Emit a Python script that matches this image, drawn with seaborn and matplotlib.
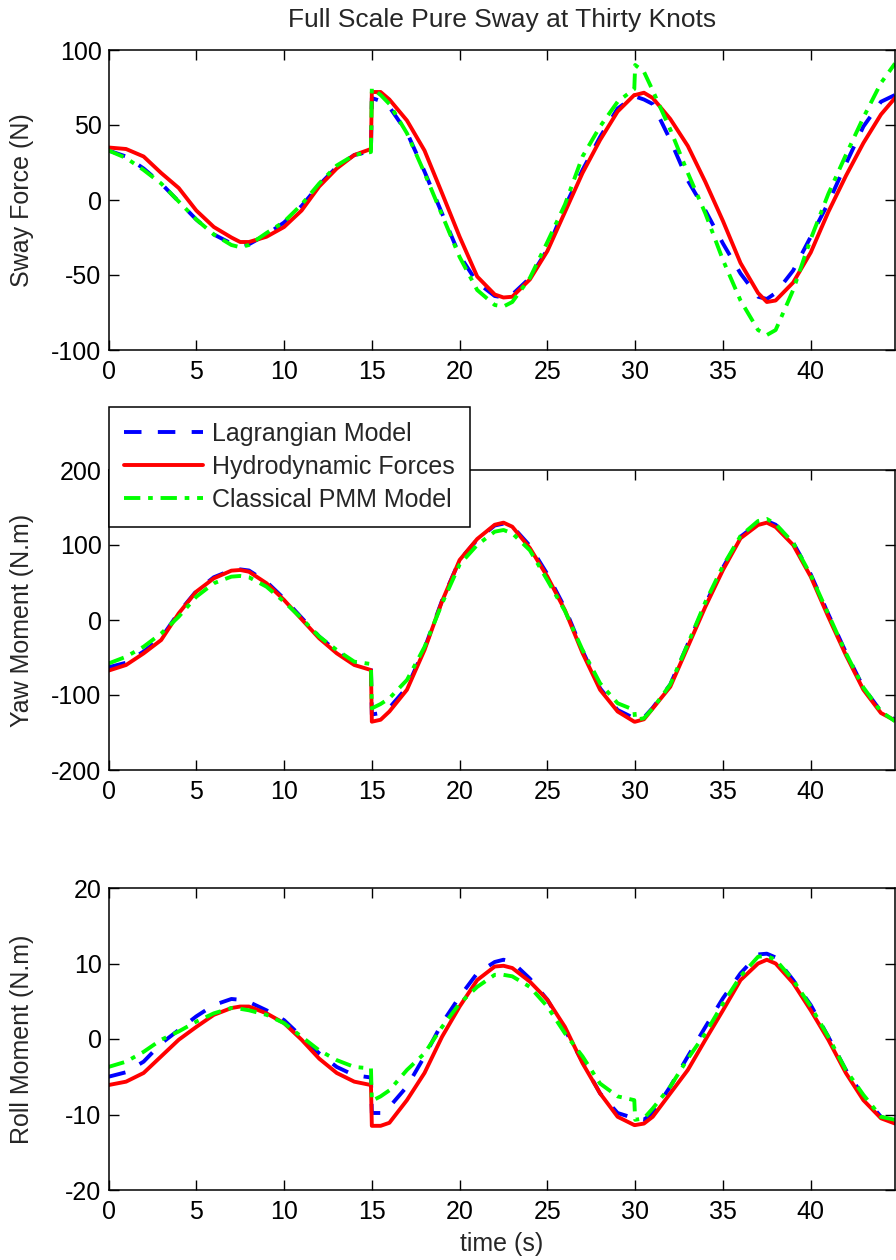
import matplotlib
matplotlib.use("Agg")
import matplotlib.pyplot as plt
import seaborn as sns

# ---------------- data ----------------
time_s = [0, 1, 2, 3, 4, 5, 6, 7, 7.5, 8, 9, 10, 11, 12, 13, 14, 14.95, 15, 15.5,
          16, 17, 18, 19, 20, 21, 22, 22.5, 23, 24, 25, 26, 27, 28, 29, 29.95, 30, 30.5,
          31, 32, 33, 34, 35, 36, 37, 37.5, 38, 39, 40, 41, 42, 43, 44, 44.8]

series_names = ["Lagrangian Model", "Hydrodynamic Forces", "Classical PMM Model"]

# Sway force (N)
sway_lagrangian = [33, 29, 21, 11, -1, -13, -23, -29, -30, -29.5, -23, -15, -4, 10, 22, 30, 32.5, 68, 66,
                   62, 45, 19, -9, -37, -55, -64, -65, -63, -52, -33, -4.4, 20, 42, 61, 69, 69, 67,
                   64, 40, 13, -7, -29, -49, -64.5, -66, -62, -47, -24.5, -2, 24, 49, 65.5, 70]
sway_hydro = [35, 34, 29, 18, 8, -7, -18, -25, -28, -28, -24.5, -18, -7, 9, 21, 30, 34, 72, 72,
              67, 53, 33, 4.5, -24.5, -51, -63, -65, -64.5, -53, -34, -8, 18, 40, 59, 70, 70, 71.5,
              68, 54, 36, 12, -14, -42, -62, -68, -67, -55, -35, -8, 16, 38, 57, 68]
sway_pmm = [33, 28, 20, 11, -1, -13, -23, -30, -31.5, -30, -22, -14.5, -3, 11, 23, 30, 32, 74.5, 70,
            64, 44.5, 18, -10, -38, -60, -70, -71, -68, -52, -28, -3, 29, 49, 65.5, 74, 90, 85.5,
            73, 47, 18, -9, -40, -67, -86.7, -90, -86.7, -60, -26, 4, 30, 55, 78, 91]

# Yaw moment (N.m)
yaw_lagrangian = [-63, -57, -42, -24, 10, 38.5, 57, 66.5, 67.5, 66, 51, 28.5, 3, -22, -42, -58, -63, -126, -124,
                  -117, -90, -38, 26, 80, 107, 126, 128.5, 125, 99, 61, 16, -41, -91, -120, -131, -132, -130,
                  -117, -86, -32, 21, 70, 111, 129, 132, 127, 103, 61, 8, -43, -90, -122, -133]
yaw_hydro = [-67.5, -60, -44.5, -26.7, 8.9, 37.8, 55.6, 65.8, 66.7, 64.4, 49, 26.7, 1, -24.4, -44.4, -60, -66.7, -135.6, -133,
             -122, -93, -40, 25, 80, 108, 127, 129.8, 124.4, 96, 57.8, 13, -44, -93, -122, -135.6, -135.6, -132.4,
             -118, -89, -35.6, 17.8, 66.7, 109, 126.7, 129.8, 124, 100, 57.8, 4.4, -46.7, -93, -124, -134]
yaw_pmm = [-58, -49, -35.6, -18, 4.4, 31, 49, 57.8, 58.7, 57, 44.4, 24.4, 2.2, -22, -40, -55.6, -58.7, -117.8, -112,
           -104.4, -80, -36, 22, 74, 100, 117.8, 120, 115.6, 93, 53, 12, -40, -84.4, -111, -120, -133, -131,
           -118, -86, -32, 24, 72, 112, 132, 134.7, 128, 103, 60, 8, -44, -90, -122, -135]

# Roll moment (N.m)
roll_lagrangian = [-5, -4.4, -3, -0.6, 1.2, 3.0, 4.5, 5.3, 5.2, 4.9, 3.8, 2.5, 0.3, -1.9, -3.7, -4.8, -5.1, -9.8, -9.8,
                   -9, -6.3, -2.3, 2.1, 5.6, 8.7, 10.2, 10.5, 10.2, 8.0, 5.2, 1.2, -3.0, -7.2, -9.8, -10.5, -10.5, -10.7,
                   -9.8, -6.3, -2.3, 1.6, 5.4, 8.7, 11.2, 11.3, 10.8, 7.8, 4.5, 0.3, -4.1, -7.6, -10.3, -10.9]
roll_hydro = [-6.1, -5.65, -4.5, -2.3, -0.1, 1.6, 3.2, 4.1, 4.3, 4.3, 3.4, 2.1, -0.1, -2.6, -4.5, -5.65, -6.1, -11.5, -11.5,
              -11.1, -8.1, -4.5, 0.3, 4.3, 7.8, 9.6, 9.7, 9.4, 7.6, 5.2, 1.6, -3.2, -7.2, -10.3, -11.4, -11.4, -11.2,
              -10.3, -7.2, -4.1, -0.1, 3.8, 7.8, 10.0, 10.5, 10.0, 7.4, 3.8, -0.1, -4.5, -8.1, -10.5, -11.2]
roll_pmm = [-3.7, -3, -1.7, -0.1, 1.0, 2.3, 3.4, 4.1, 4.0, 3.8, 3.2, 2.1, 0.3, -1.5, -2.8, -3.7, -3.9, -8.2, -7.6,
            -6.8, -4.1, -1.9, 1.6, 4.7, 6.9, 8.5, 8.5, 8.3, 6.9, 4.3, 0.75, -2.3, -5.9, -7.6, -8.1, -10.7, -10.5,
            -9.2, -6.3, -2.6, 0.75, 4.7, 8.3, 10.9, 11.0, 10.5, 7.8, 4.3, 0.3, -4.1, -7.4, -10.3, -10.7]

x_ticks = [0, 5, 10, 15, 20, 25, 30, 35, 40]
sway_ticks = [-100, -50, 0, 50, 100]
yaw_ticks = [-200, -100, 0, 100, 200]
roll_ticks = [-20, -10, 0, 10, 20]

# ---------------- style ----------------
sns.set_style("white")
plt.rcParams['font.family'] = ['Liberation Sans', 'DejaVu Sans']
plt.rcParams['axes.unicode_minus'] = False
FS = 18

colors = ["#0000ff", "#ff0000", "#00ff00"]
styles = [(0, (4.5, 4.2)), "-", (0, (4.2, 2.0, 1.2, 2.0))]
LW = 2.8

fig = plt.figure(figsize=(8.96, 12.6), dpi=100)
W = 896.0
H = 1260.0
left = 108.5 / W
width = (895 - 108.5) / W

panels = [
    dict(rect=(left, 1 - 350 / H, width, 300 / H), data=[sway_lagrangian, sway_hydro, sway_pmm],
         ylabel="Sway Force (N)", yticks=sway_ticks, ylim=(-100, 100)),
    dict(rect=(left, 1 - 770 / H, width, 300 / H), data=[yaw_lagrangian, yaw_hydro, yaw_pmm],
         ylabel="Yaw Moment (N.m)", yticks=yaw_ticks, ylim=(-200, 200)),
    dict(rect=(left, 1 - 1190 / H, width, 302 / H), data=[roll_lagrangian, roll_hydro, roll_pmm],
         ylabel="Roll Moment (N.m)", yticks=roll_ticks, ylim=(-20, 20)),
]

axes = []
for p in panels:
    ax = fig.add_axes(p["rect"])
    for name, vals, c, ls in zip(series_names, p["data"], colors, styles):
        sns.lineplot(x=time_s, y=vals, ax=ax, color=c, linewidth=LW, linestyle=ls,
                     label=name, legend=False, estimator=None, sort=False)
    ax.set_xlim(0, 44.8)
    ax.set_ylim(*p["ylim"])
    ax.set_xticks(x_ticks)
    ax.set_yticks(p["yticks"])
    ax.tick_params(axis="y", direction="in", left=True, right=True, length=7, width=1,
                   labelsize=FS, pad=5, colors="black")
    ax.tick_params(axis="x", direction="in", bottom=True, top=True, length=7, width=1,
                   labelsize=FS, pad=7, colors="black")
    for s in ax.spines.values():
        s.set_visible(True)
        s.set_color("black")
        s.set_linewidth(1.1)
    ax.set_ylabel(p["ylabel"], fontsize=FS)
    ax.yaxis.set_label_coords(-0.095, 0.5)
    ax.set_xlabel("")
    axes.append(ax)

axes[2].set_xlabel("time (s)", fontsize=FS, labelpad=6)

fig.text(0.5605, 1 - 20 / H, "Full Scale Pure Sway at Thirty Knots", fontsize=19,
         ha="center", va="center")

handles, labels = axes[1].get_legend_handles_labels()
leg = fig.legend(handles, labels, loc="upper left", bbox_to_anchor=(109 / W, 1 - 407 / H),
                 fontsize=FS, frameon=True, fancybox=False, framealpha=1, edgecolor="black",
                 borderaxespad=0, handlelength=3.15, handletextpad=0.38, labelspacing=0.36,
                 borderpad=0.6)
leg.get_frame().set_linewidth(1.1)

fig.savefig("out.png", dpi=100)
